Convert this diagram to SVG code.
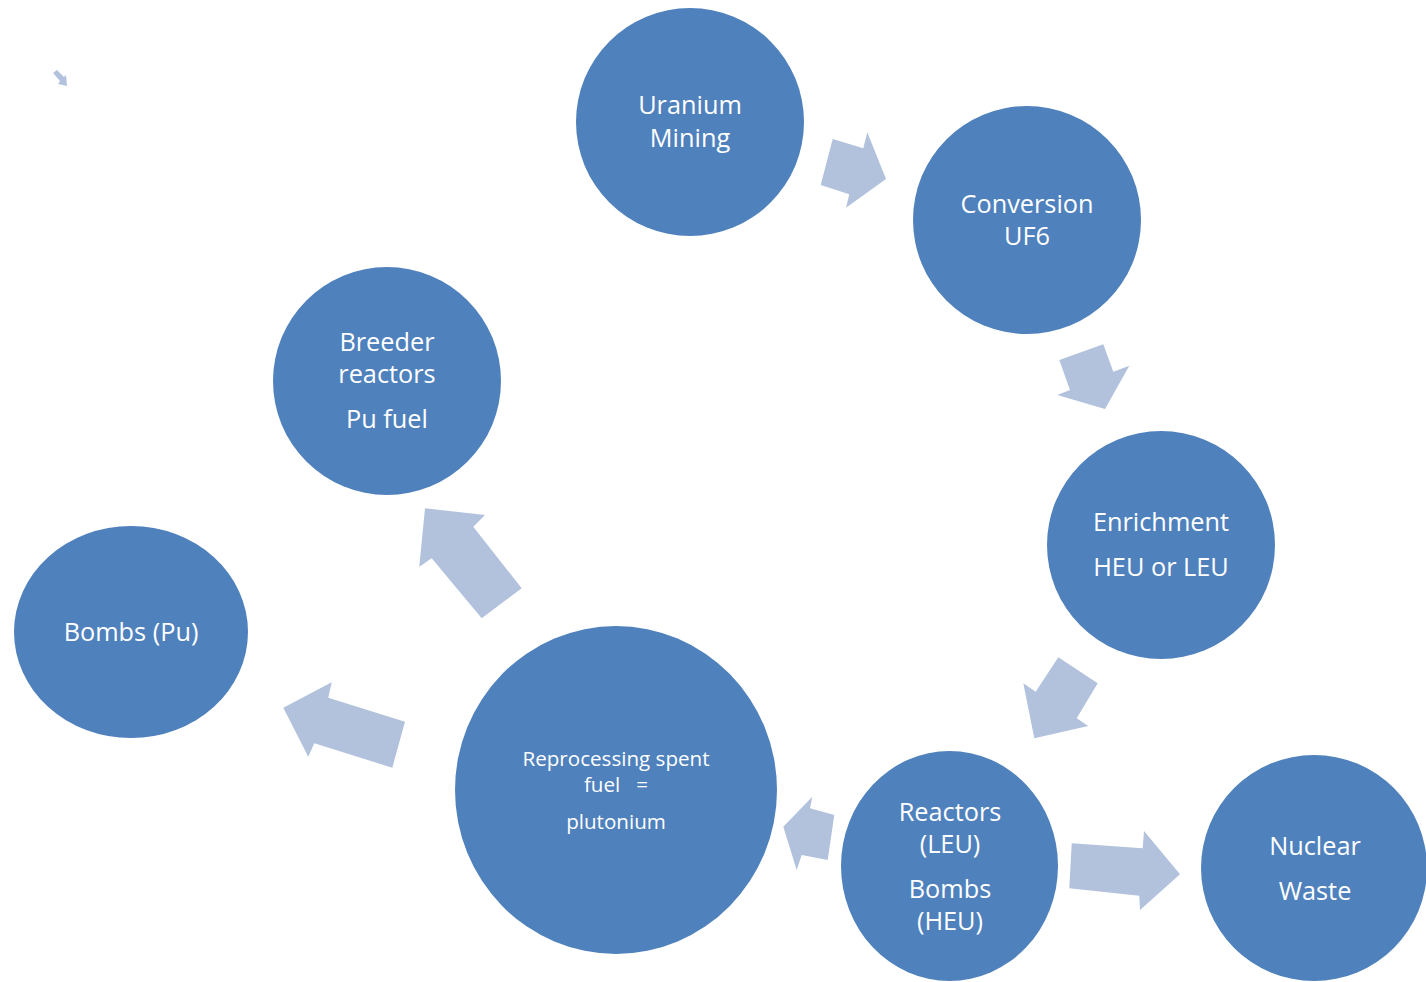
<svg xmlns="http://www.w3.org/2000/svg" width="1426" height="982" viewBox="0 0 1426 982">
<style>
.n{fill:#4F81BD}
.a{fill:#B2C2DD}
.t{fill:#fff;font-family:"Open Sans","Liberation Sans",sans-serif;font-size:25.3px;text-anchor:middle}
.s{font-size:20.6px}
</style>
<rect width="1426" height="982" fill="#fff"/>
<g id="connectors">
<polygon class="a" points="53,73 57,70 64,77 66,75 67,86 58,84 60,81"/>
<polygon class="a" points="832.7,139 863.3,148.3 867.3,132.3 886,179 846,207.7 849.3,194.3 820.7,185"/>
<polygon class="a" points="1059.3,360 1103.3,344.3 1113.3,371.7 1129.3,365.7 1105,409 1057.3,395 1070,390"/>
<polygon class="a" points="1058.3,657.3 1097.7,683.3 1076.7,718.3 1088.3,726 1034.3,738.3 1023.3,683.3 1035.7,691.7"/>
<polygon class="a" points="1071.7,843.3 1142.7,848.3 1144,831 1180,874.3 1140,910 1139.3,895.7 1069.3,888.3"/>
<polygon class="a" points="812.3,796.7 810,808.3 834.3,815 827.7,860 801.7,855 796.7,870 783.3,826.7"/>
<polygon class="a" points="283.3,707.7 331.7,682.3 328.3,697.7 405,721.7 392.3,767.7 314.3,743.3 308.3,756.7"/>
<polygon class="a" points="425,508.3 485,515 473.3,526.7 521.7,588.3 481.7,618.3 431.7,558.3 419.3,566.7"/>
</g>
<g id="uranium-mining">
<circle class="n" cx="690" cy="122" r="114"/>
<text class="t" x="690" y="114">Uranium</text>
<text class="t" x="690" y="147">Mining</text>
</g>
<g id="conversion">
<circle class="n" cx="1027" cy="220" r="114"/>
<text class="t" x="1027" y="213">Conversion</text>
<text class="t" x="1027" y="245">UF6</text>
</g>
<g id="enrichment">
<circle class="n" cx="1161" cy="545" r="114"/>
<text class="t" x="1161" y="531">Enrichment</text>
<text class="t" x="1161" y="576">HEU or LEU</text>
</g>
<g id="reactors">
<ellipse class="n" cx="949.5" cy="866" rx="108.5" ry="115"/>
<text class="t" x="950" y="821">Reactors</text>
<text class="t" x="950" y="853">(LEU)</text>
<text class="t" x="950" y="898">Bombs</text>
<text class="t" x="950" y="930">(HEU)</text>
</g>
<g id="nuclear-waste">
<circle class="n" cx="1314" cy="868" r="113"/>
<text class="t" x="1315" y="855">Nuclear</text>
<text class="t" x="1315" y="900">Waste</text>
</g>
<g id="reprocessing">
<ellipse class="n" cx="616" cy="790" rx="161" ry="164"/>
<text class="t s" x="616" y="766">Reprocessing spent</text>
<text class="t s" x="616" y="792" xml:space="preserve">fuel   =</text>
<text class="t s" x="616" y="829">plutonium</text>
</g>
<g id="breeder">
<circle class="n" cx="387" cy="381" r="114"/>
<text class="t" x="387" y="351">Breeder</text>
<text class="t" x="387" y="383">reactors</text>
<text class="t" x="387" y="428">Pu fuel</text>
</g>
<g id="bombs-pu">
<ellipse class="n" cx="131" cy="632" rx="117" ry="106"/>
<text class="t" x="131" y="641">Bombs (Pu)</text>
</g>
</svg>
